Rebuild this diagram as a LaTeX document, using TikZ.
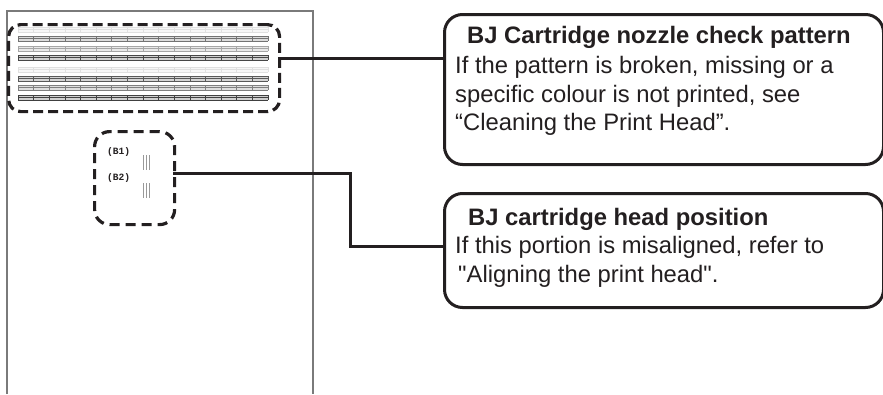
\documentclass[tikz,border=0pt]{standalone}
\usepackage{fontspec}
\setmainfont{Liberation Sans}
\setmonofont{Liberation Mono}
\usetikzlibrary{calc}
\definecolor{ink}{HTML}{231F20}
\definecolor{sheet}{HTML}{7A7A7A}

\begin{document}
\begin{tikzpicture}[
  x=1pt,y=-1pt,
  pagesheet/.style={draw=sheet, line width=1.4pt},
  checkarea/.style={draw=ink, line width=3.2pt, dash pattern=on 10pt off 5pt,
    rounded corners=12pt},
  callout/.style={draw=ink, fill=white, rounded corners=18pt,
    line width=3pt, inner sep=0pt},
  leader/.style={draw=ink, line width=3pt},
  gridline/.style={line width=0.7pt},
  calltitle/.style={anchor=base west, inner sep=0pt, text=ink,
    font=\bfseries\fontsize{23.8}{29}\selectfont},
  calltext/.style={anchor=base west, inner sep=0pt, text=ink,
    font=\fontsize{23.8}{29}\selectfont},
  headlabel/.style={anchor=west, inner sep=0pt, text=ink,
    font=\ttfamily\bfseries\fontsize{9.6}{11}\selectfont}
]
\useasboundingbox (0,0) rectangle (883,394);

% Printed sheet, running off the bottom.
\draw[pagesheet] (7,394) -- (7,11) -- (313,11) -- (313,394);

% Nozzle check pattern: two bands of four colour groups.
\foreach \gy/\gs in {27/12, 36/55, 46/35, 55/72, 67/12, 76/65, 85/50, 95/75} {
  \fill[black!\gs!white, opacity=0.25] (18,\gy) rectangle (268,\gy+5);
  \foreach \k in {0,2.5,5}
    \draw[gridline, draw=black!\gs] (18,\gy+\k) -- (268,\gy+\k);
  \foreach \i in {0,...,16}
    \draw[gridline, draw=black!\gs] (18+15.625*\i,\gy) -- ++(0,5);
}
\node[checkarea, minimum width=271pt, minimum height=87pt, anchor=north west]
  (nozzlearea) at (7,23) {};

% Head position pattern.
\node[headlabel] (bone) at (107,152) {(B1)};
\node[headlabel] (btwo) at (107,178) {(B2)};
\foreach \lx in {143,146,149} {
  \draw[draw=black!40, line width=0.5pt] (\lx,155) -- (\lx,170);
  \draw[draw=black!40, line width=0.5pt] (\lx,183) -- (\lx,198);
}
\node[checkarea, rounded corners=15pt, dash pattern=on 10pt off 6pt,
  minimum width=80pt, minimum height=93pt, anchor=north west]
  (headarea) at (93,130) {};

% Callouts.
\node[callout, minimum width=439pt, minimum height=150pt, anchor=north west]
  (nozzlebox) at (443,13) {};
\node[calltitle] (nozzletitle) at (467,43) {BJ Cartridge nozzle check pattern};
\node[calltext] at (455,73) {If the pattern is broken, missing or a};
\node[calltext] at (455,102) {specific colour is not printed, see};
\node[calltext] at (455,130) {“Cleaning the Print Head”.};

\node[callout, minimum width=439pt, minimum height=114pt, anchor=north west]
  (headbox) at (443,192) {};
\node[calltitle] (headtitle) at (468,225) {BJ cartridge head position};
\node[calltext] at (455,253) {If this portion is misaligned, refer to};
\node[calltext] at (458,282) {\textquotedbl Aligning the print head\textquotedbl.};

% Leader lines.
\coordinate (nozzletap) at (278,58);
\coordinate (headtap) at (173,173);
\draw[leader] (nozzletap) -- (nozzletap -| nozzlebox.west);
\draw[leader] (headtap) -- (350,173) -- (350,246) -- (headbox.west |- 0,246);

\end{tikzpicture}
\end{document}
